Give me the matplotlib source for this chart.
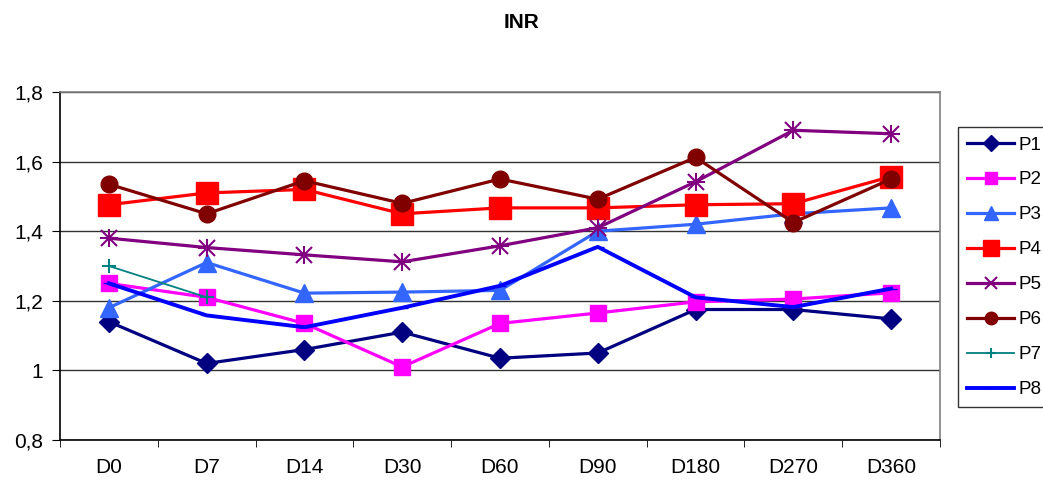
import matplotlib.pyplot as plt
from matplotlib.ticker import FuncFormatter

plt.rcParams["font.family"] = ["Liberation Sans", "DejaVu Sans"]

days = ["D0", "D7", "D14", "D30", "D60", "D90", "D180", "D270", "D360"]

p1 = [1.14, 1.02, 1.06, 1.11, 1.035, 1.05, 1.175, 1.175, 1.148]
p2 = [1.25, 1.21, 1.135, 1.01, 1.135, 1.165, 1.197, 1.205, 1.223]
p3 = [1.18, 1.31, 1.222, 1.225, 1.23, 1.40, 1.42, 1.45, 1.467]
p4 = [1.476, 1.51, 1.52, 1.45, 1.467, 1.467, 1.476, 1.479, 1.557]
p5 = [1.38, 1.353, 1.332, 1.312, 1.358, 1.41, 1.542, 1.69, 1.68]
p6 = [1.535, 1.45, 1.545, 1.48, 1.55, 1.492, 1.612, 1.425, 1.55]
p7 = [1.30, 1.21]
p8 = [1.25, 1.158, 1.124, 1.18, 1.243, 1.355, 1.21, 1.182, 1.235]

series = [
    ("P1", p1, "#000080", "D", 10.5, 2.3),
    ("P2", p2, "#FF00FF", "s", 12, 2.3),
    ("P3", p3, "#3366FF", "^", 13, 2.3),
    ("P4", p4, "#FF0000", "s", 16, 2.3),
    ("P5", p5, "#800080", "x", 12, 2.3),
    ("P6", p6, "#800000", "o", 12, 2.3),
    ("P7", p7, "#008080", "+", 10, 1.3),
    ("P8", p8, "#0000FF", "_", 8, 2.8),
]

fig = plt.figure(figsize=(10.43, 4.88), dpi=100)
ax = fig.add_axes([60 / 1043, 48 / 488, 880 / 1043, 348 / 488])

x = list(range(len(days)))
for name, vals, col, mk, ms, lw in series:
    ax.plot(x[:len(vals)], vals, color=col, lw=lw, marker=mk, markersize=ms,
            markeredgewidth=1.5 if mk in ("x", "+") else 1, label=name)
# the asterisk marker: overlay a plus on the x of P5
ax.plot(x, p5, ls="none", marker="+", color="#800080", markersize=13, markeredgewidth=1.5)

ax.set_xlim(-0.5, len(days) - 0.5)
ax.set_ylim(0.8, 1.8)
ax.set_yticks([0.8, 1.0, 1.2, 1.4, 1.6, 1.8])
ax.yaxis.set_major_formatter(FuncFormatter(lambda v, p: ("%g" % round(v, 2)).replace(".", ",")))
ax.set_xticks(x)
ax.set_xticklabels(days)
ax.set_xticks([i - 0.5 for i in range(len(days) + 1)], minor=True)
ax.tick_params(axis="x", which="major", length=0, pad=13, labelsize=15)
ax.tick_params(axis="x", which="minor", length=5, direction="out")
ax.tick_params(axis="y", length=6, direction="out", labelsize=15, pad=6)

ax.grid(axis="y", color="#333333", lw=1)
ax.set_axisbelow(True)
ax.spines["left"].set_color("black")
ax.spines["bottom"].set_color("black")
ax.spines["top"].set_color("#808080")
ax.spines["right"].set_color("#808080")
for s in ax.spines.values():
    s.set_linewidth(1.2)

leg = ax.legend(loc="upper left", bbox_to_anchor=(958 / 1043, 1 - 127 / 488),
                bbox_transform=fig.transFigure, borderaxespad=0,
                frameon=True, fancybox=False, edgecolor="black",
                fontsize=13.5, handlelength=2.5, labelspacing=0.95,
                borderpad=0.5, handletextpad=0.2, markerscale=0.75)
leg.get_frame().set_linewidth(1)

fig.text(0.5, 1 - 22 / 488, "INR", ha="center", va="center",
         fontsize=15, fontweight="bold")

fig.savefig("out.png", dpi=100)
